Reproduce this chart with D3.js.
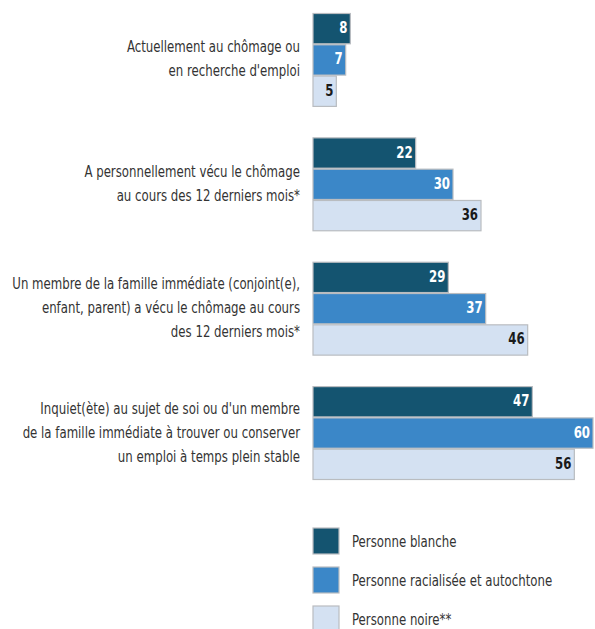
<!DOCTYPE html>
<html>
<head>
<meta charset="utf-8">
<script src="https://cdn.jsdelivr.net/npm/d3@7"></script>
<style>
  html, body { margin: 0; padding: 0; background: #fff; }
  svg { display: block; font-family: "DejaVu Sans Condensed", "Liberation Sans Narrow", "DejaVu Sans", sans-serif; font-stretch: condensed; }
</style>
</head>
<body>
<svg id="chart" width="595" height="629"></svg>
<script>
// categories (each label split into its lines)
const categories = [
    ["Actuellement au chômage ou", "en recherche d'emploi"],
    ["A personnellement vécu le chômage", "au cours des 12 derniers mois*"],
    ["Un membre de la famille immédiate (conjoint(e),", "enfant, parent) a vécu le chômage au cours", "des 12 derniers mois*"],
    ["Inquiet(ète) au sujet de soi ou d'un membre", "de la famille immédiate à trouver ou conserver", "un emploi à temps plein stable"]
];

const seriesNames = ["Personne blanche", "Personne racialisée et autochtone", "Personne noire**"];
const seriesColors = ["#145470", "#3b87c8", "#d4e1f2"];
const labelColors = ["#fff", "#fff", "#1a1a1a"];

const blanche = [8, 22, 29, 47];
const racialisee = [7, 30, 37, 60];
const noire = [5, 36, 46, 56];

const values = [blanche, racialisee, noire];

const svg = d3.select("#chart");

const x = d3.scaleLinear().domain([0, 60]).range([313, 593]);

const y0 = d3.scaleBand()
    .domain(d3.range(categories.length))
    .range([13, 480])
    .paddingInner(0.245)
    .paddingOuter(0);

const y1 = d3.scaleBand()
    .domain(d3.range(seriesNames.length))
    .range([0, y0.bandwidth()])
    .padding(0);

const groups = svg.selectAll("g.group")
    .data(categories)
    .join("g")
    .attr("class", "group")
    .attr("transform", (d, i) => `translate(0,${y0(i)})`);

// category labels, right aligned against the bars
const catLabels = groups.append("text")
    .attr("class", "cat")
    .attr("text-anchor", "end")
    .attr("font-size", 16.5)
    .attr("fill", "#333");

catLabels.selectAll("tspan")
    .data(d => d)
    .join("tspan")
    .attr("x", 300)
    .attr("y", (d, i, nodes) => y0.bandwidth() / 2 + (i - (nodes.length - 1) / 2) * 24 + 4.5)
    .text(d => d);

const valueLabels = [];
groups.each(function(cat, ci) {
    const g = d3.select(this);
    seriesNames.forEach((s, si) => {
        const v = values[si][ci];
        g.append("rect")
            .attr("x", x(0))
            .attr("y", y1(si) + 0.5)
            .attr("width", x(v) - x(0))
            .attr("height", y1.bandwidth() - 1)
            .attr("fill", seriesColors[si])
            .attr("stroke", "#b9bcc0")
            .attr("stroke-width", 1.2);

        valueLabels.push(g.append("text")
            .attr("x", x(v) - 3)
            .attr("y", y1(si) + y1.bandwidth() / 2 + 4.5)
            .attr("text-anchor", "end")
            .attr("font-size", 16.5)
            .attr("font-weight", "bold")
            .attr("fill", labelColors[si])
            .text(v));
    });
});

// legend
const legend = svg.selectAll("g.legend")
    .data(seriesNames)
    .join("g")
    .attr("class", "legend")
    .attr("transform", (d, i) => `translate(313,${528 + i * 39})`);

legend.append("rect")
    .attr("width", 26)
    .attr("height", 26)
    .attr("fill", (d, i) => seriesColors[i])
    .attr("stroke", "#b9bcc0")
    .attr("stroke-width", 1.2);

const legendLabels = legend.append("text")
    .attr("x", 39)
    .attr("y", 19)
    .attr("font-size", 16.5)
    .attr("fill", "#333")
    .text(d => d);

// the original uses a condensed face: squeeze text horizontally
// so that the widest category line fits in about 288px
let widest = 0;
catLabels.selectAll("tspan").each(function() {
    widest = Math.max(widest, this.getComputedTextLength());
});
const k = Math.min(1, 288 / widest);

function squeeze(sel, ax) {
    sel.attr("transform", `translate(${ax},0) scale(${k},1) translate(${-ax},0)`);
}
squeeze(catLabels, 300);
legendLabels.each(function() { squeeze(d3.select(this), 39); });
valueLabels.forEach(t => squeeze(t, +t.attr("x")));
</script>
</body>
</html>
